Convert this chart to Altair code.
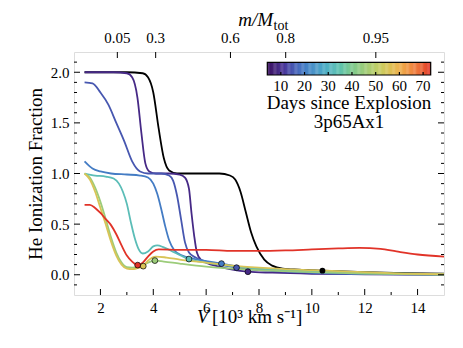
import altair as alt
import numpy as np
import pandas as pd

SERIF = "Liberation Serif"

# ---------------- data ----------------
series_days = [9, 15, 20, 33, 45, 55, 73]

v_indigo = [1.4, 2.5, 3.0, 3.2, 3.4, 3.55, 3.7, 3.85, 4.1, 4.6, 5.0, 5.2, 5.35, 5.45, 5.55, 5.65, 5.8, 6.0, 6.5, 7.0, 7.58, 8.5, 10, 12, 15]
y_indigo = [2.0, 2.0, 1.99, 1.95, 1.75, 1.4, 1.1, 1.02, 1.0, 1.0, 0.99, 0.96, 0.85, 0.6, 0.38, 0.22, 0.15, 0.12, 0.08, 0.05, 0.03, 0.02, 0.01, 0.005, 0.0]

v_bluepurple = [1.4, 1.7, 2.0, 2.3, 2.6, 2.9, 3.2, 3.5, 3.8, 4.3, 4.6, 4.75, 4.9, 5.05, 5.2, 5.35, 5.6, 6.0, 6.5, 7.15, 8, 9, 10.5, 12.5, 15]
y_bluepurple = [1.9, 1.89, 1.8, 1.68, 1.5, 1.32, 1.12, 1.02, 1.0, 1.0, 0.98, 0.93, 0.78, 0.55, 0.32, 0.22, 0.17, 0.13, 0.1, 0.07, 0.045, 0.03, 0.015, 0.006, 0.002]

v_blue = [1.4, 1.7, 2.0, 2.4, 3.0, 3.5, 3.8, 4.0, 4.15, 4.3, 4.45, 4.6, 4.8, 5.1, 5.5, 6.0, 6.58, 7.2, 8, 9, 10, 11.5, 13, 15]
y_blue = [1.12, 1.05, 1.02, 1.0, 0.99, 0.98, 0.96, 0.9, 0.8, 0.65, 0.48, 0.34, 0.24, 0.19, 0.16, 0.135, 0.11, 0.08, 0.055, 0.035, 0.022, 0.012, 0.006, 0.002]

v_teal = [1.4, 1.8, 2.2, 2.5, 2.7, 2.85, 3.0, 3.15, 3.3, 3.45, 3.6, 3.8, 4.0, 4.15, 4.4, 4.8, 5.35, 6, 7, 8, 9, 10.4, 12, 13.5, 15]
y_teal = [1.0, 0.98, 0.97, 0.95, 0.9, 0.82, 0.7, 0.52, 0.36, 0.25, 0.21, 0.23, 0.28, 0.29, 0.27, 0.22, 0.155, 0.12, 0.085, 0.06, 0.045, 0.035, 0.02, 0.01, 0.005]

v_green = [1.4, 1.6, 1.8, 2.0, 2.2, 2.4, 2.6, 2.8, 3.0, 3.2, 3.4, 3.6, 3.8, 4.06, 4.4, 5, 6, 7, 8, 9, 10, 11, 12, 13.5, 15]
y_green = [1.0, 0.96, 0.86, 0.72, 0.55, 0.37, 0.22, 0.12, 0.075, 0.07, 0.075, 0.09, 0.12, 0.14, 0.13, 0.11, 0.08, 0.06, 0.045, 0.035, 0.025, 0.018, 0.012, 0.006, 0.002]

v_yellow = [1.4, 1.6, 1.8, 2.0, 2.2, 2.4, 2.6, 2.8, 3.0, 3.2, 3.4, 3.62, 3.8, 4.1, 4.5, 5, 6, 7, 8, 9, 10, 11, 12, 13.5, 15]
y_yellow = [1.0, 0.94, 0.82, 0.66, 0.5, 0.33, 0.19, 0.1, 0.06, 0.055, 0.065, 0.085, 0.14, 0.18, 0.17, 0.15, 0.12, 0.09, 0.07, 0.055, 0.045, 0.035, 0.025, 0.012, 0.005]

v_red = [1.4, 1.6, 1.8, 2.0, 2.2, 2.4, 2.6, 2.8, 3.0, 3.2, 3.41, 3.6, 3.8, 4.0, 4.2, 5, 6, 7, 8, 9, 10, 11, 11.8, 12.6, 13.2, 14, 15]
y_red = [0.69, 0.69, 0.66, 0.61, 0.55, 0.49, 0.4, 0.29, 0.19, 0.13, 0.095, 0.12, 0.18, 0.23, 0.25, 0.245, 0.245, 0.235, 0.235, 0.24, 0.25, 0.26, 0.265, 0.255, 0.23, 0.2, 0.18]

v_black = [1.4, 3.0, 3.6, 3.8, 4.0, 4.2, 4.4, 4.6, 4.9, 5.5, 6.5, 6.9, 7.1, 7.3, 7.5, 7.7, 7.9, 8.2, 8.5, 8.9, 9.5, 10.4, 12, 13.5, 15]
y_black = [2.0, 2.0, 1.99, 1.95, 1.8, 1.45, 1.15, 1.03, 1.0, 1.0, 1.0, 0.98, 0.94, 0.82, 0.62, 0.42, 0.28, 0.15, 0.09, 0.06, 0.05, 0.04, 0.025, 0.015, 0.01]

# marker points (one per coloured series)
dot_v = [7.58, 7.15, 6.58, 5.35, 4.06, 3.62, 3.41]
dot_y = [0.03, 0.07, 0.11, 0.155, 0.14, 0.085, 0.095]
black_dot_v = [10.4]
black_dot_y = [0.04]

# top axis (mass coordinate)
top_tick_v = [2.64, 4.09, 6.92, 9.01, 12.42]
top_tick_labels = ["0.05", "0.3", "0.6", "0.8", "0.95"]

# axis ticks
x_major = [2, 4, 6, 8, 10, 12, 14]
x_minor = [3, 5, 7, 9, 11, 13]
y_major = [0.0, 0.5, 1.0, 1.5, 2.0]
y_minor = [-0.1, 0.1, 0.2, 0.3, 0.4, 0.6, 0.7, 0.8, 0.9, 1.1, 1.2, 1.3, 1.4, 1.6, 1.7, 1.8, 1.9, 2.1]

colorbar_ticks = [10, 20, 30, 40, 50, 60, 70]

# colour map (days since explosion), evenly spaced stops
cmap_colors = ["#3a1060", "#4a3598", "#4870c0", "#509ac8", "#5cbabc", "#78c894",
               "#a0cc78", "#cccc60", "#ecb450", "#f08040", "#e03028"]
day_min, day_max = 4.3, 73.2

# ---------------- layout constants ----------------
W, H = 370, 243
X_DOMAIN = [1, 15]
CB_LEFT_PX, CB_RIGHT_PX = 193.3, 356.7     # colorbar placement in plot pixels
CB_TOP_PX, CB_BOT_PX = 10.3, 23.0
TITLE_SIZE = 19
TICK_SIZE = 15

def px_to_v(px):
    return X_DOMAIN[0] + px / W * (X_DOMAIN[1] - X_DOMAIN[0])

def day_to_v(d):
    return px_to_v(CB_LEFT_PX + (d - day_min) / (day_max - day_min) * (CB_RIGHT_PX - CB_LEFT_PX))

# ---------------- build tables ----------------
all_v = [v_indigo, v_bluepurple, v_blue, v_teal, v_green, v_yellow, v_red]
all_y = [y_indigo, y_bluepurple, y_blue, y_teal, y_green, y_yellow, y_red]
rows = []
for d, vs, ys in zip(series_days, all_v, all_y):
    for v, y in zip(vs, ys):
        rows.append({"day": d, "V": v, "frac": y})
df_lines = pd.DataFrame(rows)
df_black = pd.DataFrame({"V": v_black, "frac": y_black})
df_dots = pd.DataFrame({"day": series_days, "V": dot_v, "frac": dot_y})
df_bdot = pd.DataFrame({"V": black_dot_v, "frac": black_dot_y})
df_top = pd.DataFrame({"V": top_tick_v, "label": top_tick_labels})

# colorbar swatches
edges = np.linspace(day_min, day_max, 141)
df_cb = pd.DataFrame({
    "V": [day_to_v(a) for a in edges[:-1]],
    "V2": [day_to_v(b) + 0.01 for b in edges[1:]],
    "day": (edges[:-1] + edges[1:]) / 2,
})
df_cb_frame = pd.DataFrame({"V": [day_to_v(day_min)], "V2": [day_to_v(day_max)]})
df_cb_ticks = pd.DataFrame({"V": [day_to_v(d) for d in colorbar_ticks],
                            "label": [str(d) for d in colorbar_ticks]})

x_scale = alt.Scale(domain=X_DOMAIN, nice=False, zero=False)
y_scale = alt.Scale(domain=[-0.2, 2.2], nice=False, zero=False)
color_scale = alt.Scale(domain=[day_min, day_max], range=cmap_colors, type="linear", nice=False, zero=False)

x_axis = alt.Axis(values=x_major, ticks=False, domain=False, grid=False, title="",
                  labelFont=SERIF, labelFontSize=TICK_SIZE, labelPadding=5, labelColor="black")
y_axis = alt.Axis(values=y_major, ticks=False, domain=False, grid=False, format=".1f",
                  title="He Ionization Fraction", titleFont=SERIF, titleFontSize=TITLE_SIZE,
                  titleFontWeight="normal", titlePadding=5, titleColor="black",
                  labelFont=SERIF, labelFontSize=TICK_SIZE, labelPadding=5, labelColor="black")

X = lambda: alt.X("V:Q", scale=x_scale, axis=x_axis)
Y = lambda: alt.Y("frac:Q", scale=y_scale, axis=y_axis)

black_line = alt.Chart(df_black).mark_line(color="black", strokeWidth=1.8, interpolate="monotone").encode(
    x=X(), y=Y())

lines = alt.Chart(df_lines).mark_line(strokeWidth=1.8, interpolate="monotone").encode(
    x=X(), y=Y(),
    stroke=alt.Stroke("day:Q", scale=color_scale, legend=None),
    detail="day:N",
    order="V:Q")

dots = alt.Chart(df_dots).mark_point(filled=True, size=34, stroke="black", strokeWidth=0.7, opacity=1).encode(
    x=X(), y=Y(),
    fill=alt.Fill("day:Q", scale=color_scale, legend=None))

bdot = alt.Chart(df_bdot).mark_point(filled=True, size=34, color="black", opacity=1).encode(x=X(), y=Y())

# colorbar
cb = alt.Chart(df_cb).mark_rect(strokeWidth=0).encode(
    x=X(), x2="V2:Q", y=alt.value(CB_TOP_PX), y2=alt.value(CB_BOT_PX),
    fill=alt.Fill("day:Q", scale=color_scale, legend=None))
cb_frame = alt.Chart(df_cb_frame).mark_rect(fillOpacity=0, stroke="black", strokeWidth=1.2).encode(
    x=X(), x2="V2:Q", y=alt.value(CB_TOP_PX), y2=alt.value(CB_BOT_PX))
cb_ticks = alt.Chart(df_cb_ticks).mark_rule(color="black", strokeWidth=1.2).encode(
    x=X(), y=alt.value(CB_BOT_PX), y2=alt.value(CB_BOT_PX - 3))
cb_labels = alt.Chart(df_cb_ticks).mark_text(font=SERIF, fontSize=TICK_SIZE, baseline="middle", color="black").encode(
    x=X(), y=alt.value(34), text="label:N")

def yrules(vals, x0, x1):
    return alt.Chart(pd.DataFrame({"frac": vals})).mark_rule(color="black", strokeWidth=1).encode(
        y=Y(), x=alt.value(x0), x2=alt.value(x1))

def xrules(vals, y0, y1):
    return alt.Chart(pd.DataFrame({"V": vals})).mark_rule(color="black", strokeWidth=1).encode(
        x=X(), y=alt.value(y0), y2=alt.value(y1))

ticks = [
    yrules(y_major, 0, 6), yrules(y_minor, 0, 3),
    yrules(y_major, W - 6, W), yrules(y_minor, W - 3, W),
    xrules(x_major, H, H - 6), xrules(x_minor, H, H - 3),
    xrules(top_tick_v, 0, 6),
]

top_labels = alt.Chart(df_top).mark_text(font=SERIF, fontSize=TICK_SIZE, baseline="alphabetic", color="black").encode(
    x=X(), y=alt.value(-9), text="label:N")

def label(txt, x, y, size=TITLE_SIZE, align="left", style="normal", baseline="alphabetic"):
    return alt.Chart(pd.DataFrame({"t": [txt]})).mark_text(
        font=SERIF, fontSize=size, align=align, fontStyle=style, baseline=baseline, color="black"
    ).encode(x=alt.value(x), y=alt.value(y), text="t:N")

cb_mid = (CB_LEFT_PX + CB_RIGHT_PX) / 2
texts = [
    label("Days since Explosion", cb_mid, 50.5, align="center", baseline="middle"),
    label("3p65Ax1", cb_mid, 70, align="center", baseline="middle"),
    label("V", 123, 271, style="italic"),
    label("[10³ km s⁻¹]", 138, 271),
    label("m/M", 199, -26, style="italic", align="right"),
    label("tot", 199.5, -22.5, size=14),
]

chart = alt.layer(black_line, lines, dots, bdot, cb, cb_frame, cb_ticks, cb_labels,
                  top_labels, *ticks, *texts).properties(
    width=W, height=H,
    padding={"left": 66, "top": 44, "right": 11, "bottom": 45},
    autosize=alt.AutoSizeParams(type="none"),
).configure_view(stroke="black", strokeWidth=1.5).configure(background="white")

chart.save("out.html", embed_options={"renderer": "svg", "actions": False})
